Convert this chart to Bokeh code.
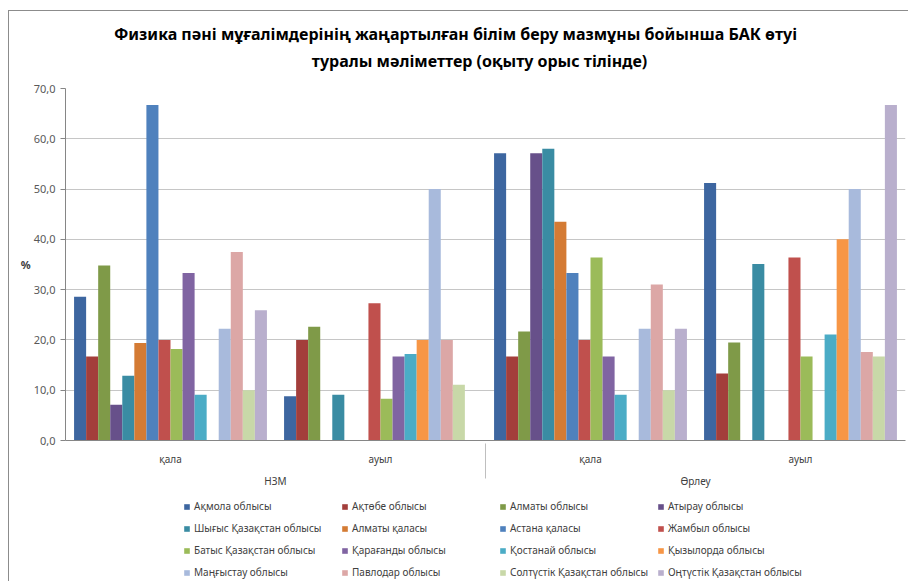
from bokeh.plotting import figure
from bokeh.layouts import column
from bokeh.models import FactorRange, Range1d, Legend, LegendItem, ColumnDataSource, FixedTicker
from bokeh.core.properties import value
from bokeh.transform import dodge
from bokeh.embed import file_html
from bokeh.resources import INLINE

title_lines = ["Физика пәні мұғалімдерінің жаңартылған білім беру мазмұны бойынша БАК өтуі",
               "туралы мәліметтер (оқыту орыс тілінде)"]

categories = [("НЗМ", "қала"), ("НЗМ", "ауыл"), ("Өрлеу", "қала"), ("Өрлеу", "ауыл")]

series_names = [
    "Ақмола облысы", "Ақтөбе облысы", "Алматы облысы", "Атырау облысы",
    "Шығыс Қазақстан облысы", "Алматы қаласы", "Астана қаласы", "Жамбыл облысы",
    "Батыс Қазақстан облысы", "Қарағанды облысы", "Қостанай облысы", "Қызылорда облысы",
    "Маңғыстау облысы", "Павлодар облысы", "Солтүстік Қазақстан облысы", "Оңтүстік Қазақстан облысы",
]

akmola = [28.6, 8.8, 57.1, 51.2]
aktobe = [16.7, 20.0, 16.7, 13.3]
almaty_obl = [34.8, 22.6, 21.7, 19.5]
atyrau = [7.1, 0, 57.1, 0]
shygys = [12.9, 9.1, 58.0, 35.1]
almaty_city = [19.4, 0, 43.5, 0]
astana = [66.7, 0, 33.3, 0]
zhambyl = [20.0, 27.3, 20.0, 36.4]
batys = [18.2, 8.3, 36.4, 16.7]
karagandy = [33.3, 16.7, 16.7, 0]
kostanay = [9.1, 17.2, 9.1, 21.1]
kyzylorda = [0, 20.0, 0, 40.0]
mangystau = [22.2, 50.0, 22.2, 50.0]
pavlodar = [37.5, 20.0, 31.0, 17.6]
soltustik = [10.0, 11.1, 10.0, 16.7]
ontustik = [25.9, 0, 22.2, 66.7]

series_values = [akmola, aktobe, almaty_obl, atyrau, shygys, almaty_city, astana, zhambyl,
                 batys, karagandy, kostanay, kyzylorda, mangystau, pavlodar, soltustik, ontustik]

colors = ["#3D66A0", "#A33E3B", "#7F9A48", "#67508A", "#3A8CA3", "#D47B34",
          "#4F81BD", "#C0504D", "#9BBB59", "#8064A2", "#4BACC6", "#F79646",
          "#A8BADC", "#DCA7A6", "#C8D8A8", "#B9AFCD"]

y_ticks = [0, 10, 20, 30, 40, 50, 60, 70]
y_tick_labels = ["0,0", "10,0", "20,0", "30,0", "40,0", "50,0", "60,0", "70,0"]

FONT = "Noto Sans"
TXT = "#404040"
W = 899

# ---- title strip (frames of the column are aligned: x in page pixels 65..905, y from top) ----
pt = figure(width=W, height=70, x_range=Range1d(65, 905), y_range=Range1d(70, 0),
            x_axis_type=None, y_axis_type=None, output_backend="svg", toolbar_location=None,
            min_border=0, outline_line_color=None)
pt.grid.visible = False
pt.text(x=[455, 479], y=[22, 49], text=title_lines, text_align="center", text_baseline="middle",
        text_font=value(FONT), text_font_size="16px", text_font_style="bold", text_color="#000000")

# ---- main chart ----
x_range = FactorRange(*categories, range_padding=0, group_padding=0, factor_padding=0)
p = figure(width=W, height=409, x_range=x_range, y_range=Range1d(0, 70),
           output_backend="svg", toolbar_location=None,
           min_border_left=56, min_border_right=3, min_border_top=7, min_border_bottom=47)

n = len(series_names)
bar_w = 0.0574
for i, (vals, col) in enumerate(zip(series_values, colors)):
    src = ColumnDataSource(dict(x=categories, top=vals))
    off = (i - (n - 1) / 2) * bar_w
    p.vbar(x=dodge("x", off, range=p.x_range), top="top", width=bar_w, source=src,
           fill_color=col, line_color=None)

p.xgrid.grid_line_color = None
p.ygrid.grid_line_color = "#C6C6C6"
p.outline_line_color = None

p.yaxis.ticker = FixedTicker(ticks=y_ticks)
p.yaxis.major_label_overrides = {t: l for t, l in zip(y_ticks, y_tick_labels)}
p.yaxis.axis_line_color = "#868686"
p.yaxis.major_tick_line_color = "#868686"
p.yaxis.major_tick_out = 5
p.yaxis.major_tick_in = 0
p.yaxis.minor_tick_line_color = None
p.yaxis.major_label_text_font = FONT
p.yaxis.major_label_text_font_size = "11px"
p.yaxis.major_label_text_color = "#595959"
p.yaxis.axis_label = "%"
p.yaxis.axis_label_orientation = "horizontal"
p.yaxis.axis_label_text_font = FONT
p.yaxis.axis_label_text_font_size = "11px"
p.yaxis.axis_label_text_font_style = "bold"
p.yaxis.axis_label_text_color = "#404040"
p.yaxis.axis_label_standoff = 0

xa = p.xaxis[0]
xa.axis_line_color = "#868686"
xa.major_tick_line_color = None
xa.minor_tick_line_color = None
xa.major_label_text_font = FONT
xa.major_label_text_font_size = "10px"
xa.major_label_text_color = TXT
xa.group_text_font = FONT
xa.group_text_font_size = "10px"
xa.group_text_font_style = "normal"
xa.group_text_color = TXT
xa.separator_line_color = "#BFBFBF"
xa.separator_line_width = 1

# ---- legend strip ----
pl = figure(width=W, height=91, x_range=Range1d(0, 1), y_range=Range1d(0, 1),
            x_axis_type=None, y_axis_type=None, output_backend="svg", toolbar_location=None,
            min_border=0, outline_line_color=None)
pl.grid.visible = False
items = []
for name, col in zip(series_names, colors):
    # off-screen proxy renderer, used only for the legend swatch
    r = pl.vbar(x=[-10], top=[0], width=0.1, fill_color=col, line_color=None)
    items.append(LegendItem(label=name, renderers=[r]))
legend = Legend(items=items, orientation="horizontal", ncols=4,
                label_text_font=FONT, label_text_font_size="10px", label_text_color=TXT,
                glyph_width=7, glyph_height=7, label_standoff=4, label_width=139, label_height=14,
                spacing=8, padding=2, margin=0, border_line_color=None, background_fill_alpha=0,
                location=(118, 2))
pl.add_layout(legend, "center")

layout = column(pt, p, pl, spacing=0)
layout.styles = {"margin-left": "8px", "margin-top": "10px",
                 "border-left": "1px solid #8C8C8C", "border-top": "1px solid #8C8C8C"}

open("out.html", "w").write(file_html(layout, INLINE))
